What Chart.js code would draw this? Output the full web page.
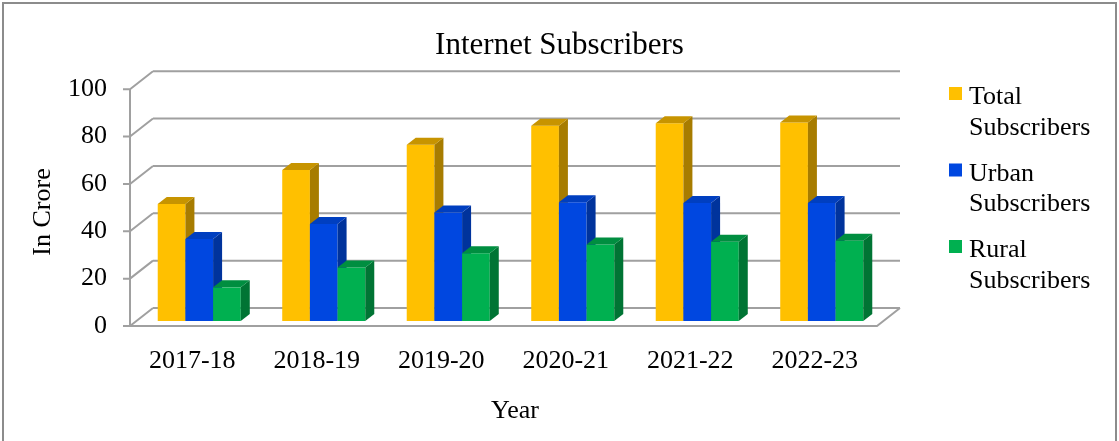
<!DOCTYPE html>
<html>
<head>
<meta charset="utf-8">
<script src="https://cdn.jsdelivr.net/npm/chart.js@4/dist/chart.umd.min.js"></script>
<style>
  body { margin: 0; background: #fff; }
  #wrap { position: relative; width: 1119px; height: 441px; overflow: hidden; }
  #frame { position: absolute; left: 2px; top: 2px; width: 1111px; height: 460px;
           border: 2px solid #8c8c8c; border-bottom: none; pointer-events: none; }
</style>
</head>
<body>
<div id="wrap">
  <canvas id="chart" width="1119" height="441"></canvas>
  <div id="frame"></div>
</div>
<script>
const years = ['2017-18', '2018-19', '2019-20', '2020-21', '2021-22', '2022-23'];
const seriesNames = ['Total Subscribers', 'Urban Subscribers', 'Rural Subscribers'];
const totalSubs = [49.4, 63.8, 74.4, 82.5, 83.5, 83.8];
const urbanSubs = [34.6, 41.0, 45.8, 50.1, 49.8, 49.8];
const ruralSubs = [14.2, 22.6, 28.6, 32.3, 33.5, 33.9];

const serif = "'Liberation Serif', 'Times New Roman', serif";

// front, top and side colours for the 3d bars
const faces = [
    { front: '#ffc000', top: '#c79400', side: '#a77c00' },
    { front: '#0047e0', top: '#003fc0', side: '#00339c' },
    { front: '#00b050', top: '#008e40', side: '#007434' }
];

const depth = { dx: 23, dy: -18 };     // back wall offset
const barShift = { dx: 7, dy: -5 };    // bars stand a bit inside the floor
const barDepth = { dx: 9, dy: -7 };

const wallPlugin = {
    id: 'wall',
    beforeDatasetsDraw(chart) {
        const { ctx, chartArea: a, scales: { y } } = chart;
        ctx.save();
        ctx.strokeStyle = '#a0a0a0';
        ctx.lineWidth = 2;
        ctx.beginPath();
        y.ticks.forEach(t => {
            const py = y.getPixelForValue(t.value);
            // back wall line
            ctx.moveTo(a.left + depth.dx, py + depth.dy);
            ctx.lineTo(a.right + depth.dx, py + depth.dy);
            // side wall diagonal
            ctx.moveTo(a.left, py);
            ctx.lineTo(a.left + depth.dx, py + depth.dy);
            // tick mark
            ctx.moveTo(a.left - 7, py);
            ctx.lineTo(a.left, py);
        });
        ctx.moveTo(a.left, a.top);
        ctx.lineTo(a.left, a.bottom);
        ctx.moveTo(a.left, a.bottom);
        ctx.lineTo(a.right, a.bottom);
        ctx.lineTo(a.right + depth.dx, a.bottom + depth.dy);
        ctx.stroke();
        ctx.restore();
    },
    // the bars are drawn below, left to right, so that each box hides the one before it
    beforeDatasetDraw() {
        return false;
    },
    afterDatasetsDraw(chart) {
        const ctx = chart.ctx;
        ctx.save();
        ctx.translate(barShift.dx, barShift.dy);
        const metas = chart.data.datasets.map((d, i) => chart.getDatasetMeta(i));
        chart.data.labels.forEach((lab, j) => {
            metas.forEach((meta, i) => {
                const bar = meta.data[j];
                const f = faces[i];
                const { x, y, base, width } = bar.getProps(['x', 'y', 'base', 'width'], true);
                const l = x - width / 2, r = x + width / 2;
                bar.draw(ctx);
                ctx.fillStyle = f.side;
                ctx.beginPath();
                ctx.moveTo(r, y);
                ctx.lineTo(r + barDepth.dx, y + barDepth.dy);
                ctx.lineTo(r + barDepth.dx, base + barDepth.dy);
                ctx.lineTo(r, base);
                ctx.closePath();
                ctx.fill();
                ctx.fillStyle = f.top;
                ctx.beginPath();
                ctx.moveTo(l, y);
                ctx.lineTo(l + barDepth.dx, y + barDepth.dy);
                ctx.lineTo(r + barDepth.dx, y + barDepth.dy);
                ctx.lineTo(r, y);
                ctx.closePath();
                ctx.fill();
            });
        });
        ctx.restore();
    },
    afterDraw(chart) {
        const { ctx, chartArea: a } = chart;
        ctx.save();
        ctx.fillStyle = '#000';
        ctx.font = '26px ' + serif;
        ctx.textAlign = 'center';
        ctx.textBaseline = 'middle';
        ctx.fillText('Year', (a.left + a.right + depth.dx) / 2, 411);
        ctx.translate(43, 212);
        ctx.rotate(-Math.PI / 2);
        ctx.fillText('In Crore', 0, 0);
        ctx.restore();

        // legend, two lines per entry
        ctx.save();
        ctx.font = '26px ' + serif;
        ctx.textAlign = 'left';
        ctx.textBaseline = 'alphabetic';
        chart.data.datasets.forEach((ds, i) => {
            const base = 104 + i * 76.5;
            ctx.fillStyle = ds.backgroundColor;
            ctx.fillRect(949, base - 17, 13, 13);
            ctx.fillStyle = '#000';
            const words = ds.label.split(' ');
            ctx.fillText(words[0], 969, base);
            ctx.fillText(words.slice(1).join(' '), 969, base + 30.5);
        });
        ctx.restore();
    }
};

new Chart(document.getElementById('chart'), {
    type: 'bar',
    data: {
        labels: years,
        datasets: [
            { label: seriesNames[0], data: totalSubs, backgroundColor: faces[0].front },
            { label: seriesNames[1], data: urbanSubs, backgroundColor: faces[1].front },
            { label: seriesNames[2], data: ruralSubs, backgroundColor: faces[2].front }
        ]
    },
    options: {
        responsive: false,
        animation: false,
        layout: { padding: 0 },
        datasets: {
            bar: { categoryPercentage: 0.667, barPercentage: 1, borderWidth: 0 }
        },
        plugins: {
            legend: { display: false },
            tooltip: { enabled: false },
            title: {
                display: true,
                text: 'Internet Subscribers',
                color: '#000',
                font: { family: serif, size: 31, weight: 'normal', lineHeight: 1.2 },
                padding: { top: 27, bottom: 25 }
            }
        },
        scales: {
            x: {
                grid: { display: false, drawTicks: false },
                border: { display: false },
                ticks: { color: '#000', font: { family: serif, size: 26 }, padding: 20 },
                afterFit: s => { s.height = 115; }
            },
            y: {
                min: 0,
                max: 100,
                grid: { display: false, drawTicks: false },
                border: { display: false },
                ticks: { stepSize: 20, color: '#000', font: { family: serif, size: 26 }, padding: 23 },
                afterFit: s => { s.width = 130; }
            },
            y2: {
                type: 'linear',
                position: 'right',
                display: true,
                grid: { display: false, drawTicks: false },
                border: { display: false },
                ticks: { display: false },
                afterFit: s => { s.width = 242; }
            }
        }
    },
    plugins: [wallPlugin]
});
</script>
</body>
</html>
